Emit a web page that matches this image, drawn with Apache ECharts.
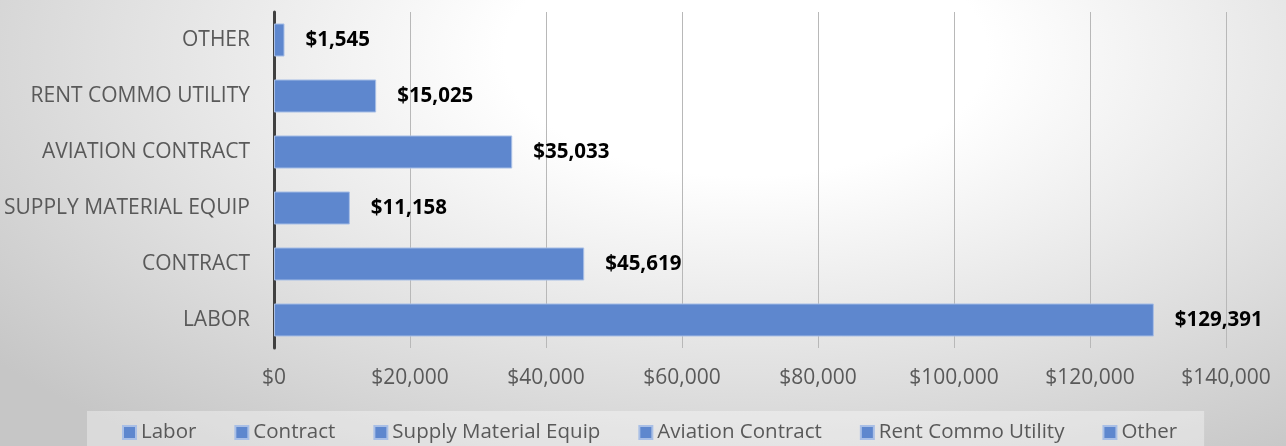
<!DOCTYPE html>
<html>
<head>
<meta charset="utf-8">
<script src="https://cdn.jsdelivr.net/npm/echarts@6/dist/echarts.min.js"></script>
<style>
html,body{margin:0;padding:0;}
#chart{width:1286px;height:446px;background:radial-gradient(ellipse 75% 110% at 58% 12%, #ffffff 0%, #ffffff 25%, #c6c6c6 100%);}
</style>
</head>
<body>
<div id="chart"></div>
<script>
const categories = ['LABOR', 'CONTRACT', 'SUPPLY MATERIAL EQUIP', 'AVIATION CONTRACT', 'RENT COMMO UTILITY', 'OTHER'];
const seriesNames = ['Labor', 'Contract', 'Supply Material Equip', 'Aviation Contract', 'Rent Commo Utility', 'Other'];
const values = [129391, 45619, 11158, 35033, 15025, 1545];
const axisMin = 0;
const axisMax = 140000;
const axisInterval = 20000;

const fontFamily = '"Open Sans", sans-serif';
const barColor = '#5E87CE';
const barBorder = '#A9BFE6';

const fmt = v => '$' + Number(v).toLocaleString('en-US');

const series = seriesNames.map((name, i) => ({
  name: name,
  type: 'bar',
  stack: 'total',
  barCategoryGap: '41%',
  itemStyle: { color: barColor, borderColor: barBorder, borderWidth: 1 },
  label: {
    show: true,
    position: 'right',
    distance: 21,
    formatter: p => fmt(p.value),
    color: '#000000',
    fontFamily: fontFamily,
    fontWeight: 'bold',
    fontSize: 20.5
  },
  data: categories.map((c, j) => (j === i ? values[i] : '-'))
}));

const chart = echarts.init(document.getElementById('chart'));
chart.setOption({
  backgroundColor: 'transparent',
  animation: false,
  grid: { left: 274, right: 60, top: 12, bottom: 98, containLabel: false },
  legend: {
    data: seriesNames,
    left: 87,
    top: 411,
    padding: [11, 27, 20, 35],
    itemGap: 38,
    itemWidth: 13,
    itemHeight: 13,
    icon: 'rect',
    backgroundColor: 'rgba(255,255,255,0.36)',
    textStyle: { color: '#595959', fontFamily: fontFamily, fontSize: 20.5 }
  },
  xAxis: {
    type: 'value',
    min: axisMin,
    max: axisMax,
    interval: axisInterval,
    axisLine: { show: false },
    axisTick: { show: false },
    splitLine: { show: true, lineStyle: { color: '#B8B8B8', width: 1 } },
    axisLabel: {
      color: '#595959',
      fontFamily: fontFamily,
      fontSize: 21,
      margin: 20,
      formatter: v => fmt(v)
    }
  },
  yAxis: {
    type: 'category',
    data: categories,
    axisLine: { show: true, lineStyle: { color: '#404040', width: 3 } },
    axisTick: { show: false },
    axisLabel: {
      color: '#595959',
      fontFamily: fontFamily,
      fontSize: 21,
      margin: 24
    }
  },
  series: series
});
</script>
</body>
</html>
